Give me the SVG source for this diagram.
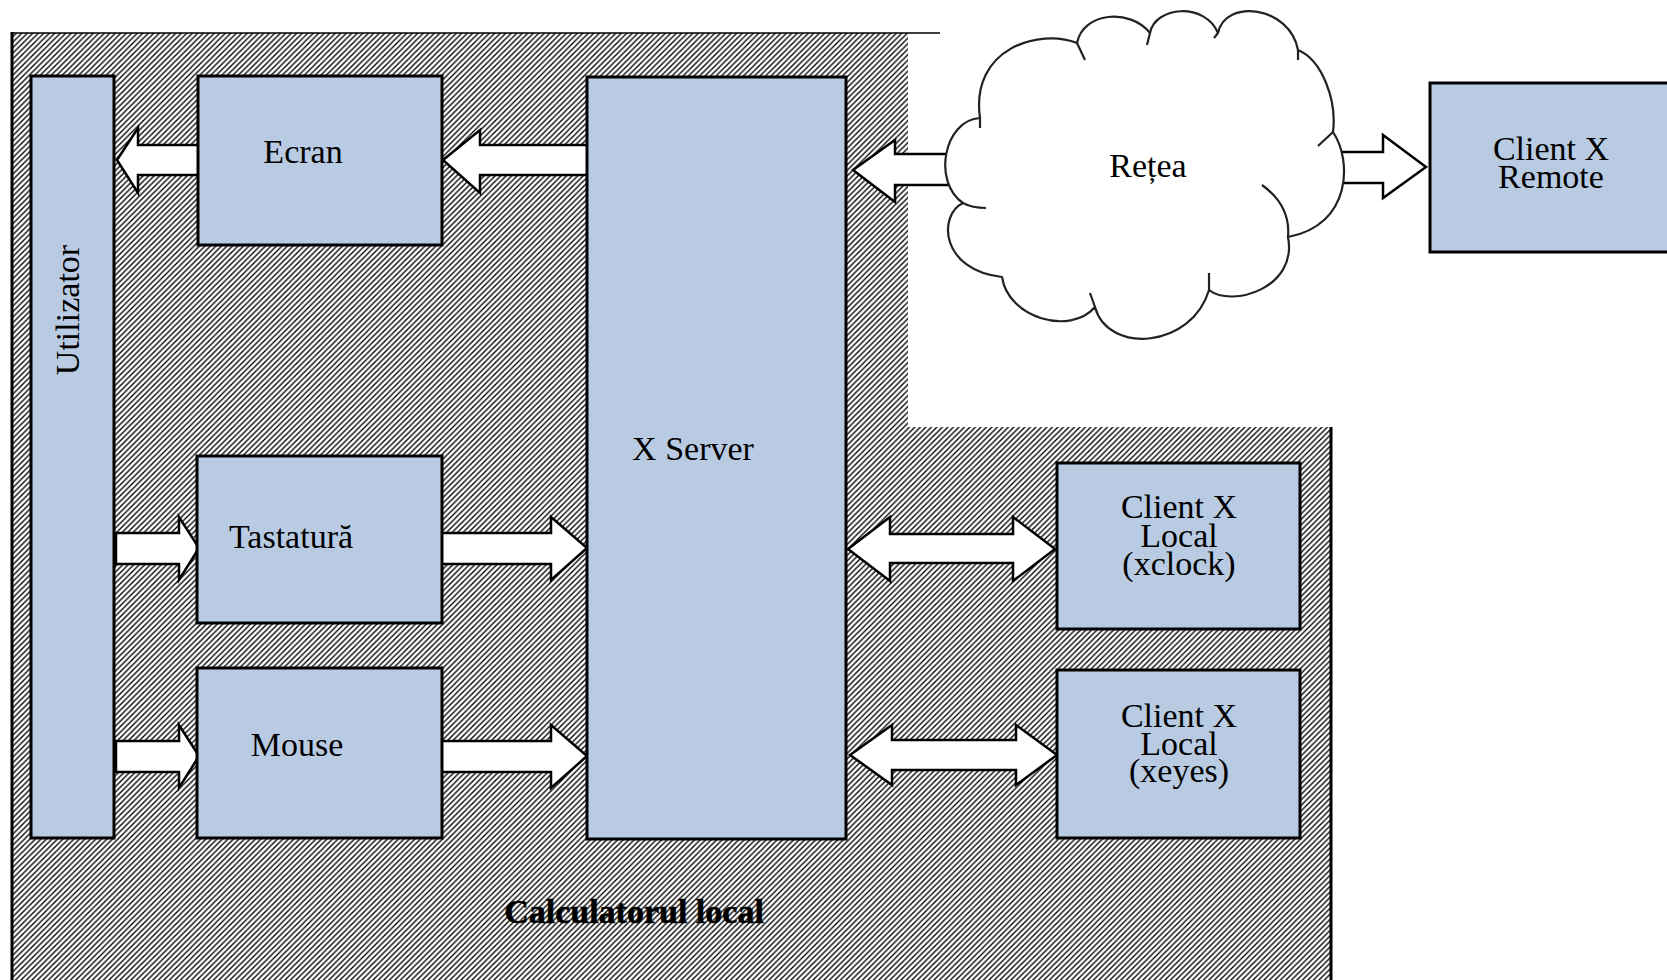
<svg xmlns="http://www.w3.org/2000/svg" width="1667" height="980" viewBox="0 0 1667 980">
<defs>
<pattern id="hatch" patternUnits="userSpaceOnUse" width="5.5" height="5.5">
<rect width="5.5" height="5.5" fill="#fff"/>
<path d="M-1,1 L1,-1 M0,5.5 L5.5,0 M4.5,6.5 L6.5,4.5" stroke="#000" stroke-width="1.35"/>
</pattern>
</defs>
<style>
.box{fill:#b8cbe3;stroke:#000;stroke-width:3}
.arr{fill:#fff;stroke:#000;stroke-width:2.5;stroke-linejoin:miter}
.t{font-family:"Liberation Serif","Times New Roman",serif;font-size:34px;fill:#000;text-anchor:middle}
.cloud{fill:#fff;stroke:#222;stroke-width:2.2;stroke-linejoin:round}
.tail{fill:none;stroke:#222;stroke-width:2.2}
</style>
<rect width="1667" height="980" fill="#fff"/>
<g id="calculatorul-local">
<path d="M12,33 H908 V427 H1331 V980 H12 Z" fill="url(#hatch)"/>
<line x1="12" y1="33" x2="940" y2="33" stroke="#000" stroke-width="1.5"/>
<line x1="12" y1="32" x2="12" y2="980" stroke="#000" stroke-width="3"/>
<line x1="1331" y1="427" x2="1331" y2="980" stroke="#000" stroke-width="3"/>
<text class="t" x="634" y="923" font-weight="bold" stroke="#000" stroke-width="0.6">Calculatorul local</text>
</g>
<g id="connectors">
<polygon class="arr" points="117,160 138,128 138,145 199,145 199,175 138,175 138,193"/>
<polygon class="arr" points="443,160 480,130 480,145 589,145 589,175 480,175 480,193"/>
<polygon class="arr" points="853,170 895,140 895,154 950,154 950,185 895,185 895,202"/>
<polygon class="arr" points="1335,152 1383,152 1383,135 1426,167 1383,198 1383,183 1335,183"/>
<polygon class="arr" points="116,533 179,533 179,517 199,548 179,580 179,564 116,564"/>
<polygon class="arr" points="440,533 551,533 551,517 587,548 551,580 551,564 440,564"/>
<polygon class="arr" points="116,741 179,741 179,725 199,756 179,788 179,772 116,772"/>
<polygon class="arr" points="440,741 551,741 551,725 587,756 551,788 551,772 440,772"/>
<polygon class="arr" points="848,549 890,517 890,534 1013,534 1013,517 1055,549 1013,581 1013,563 890,563 890,581"/>
<polygon class="arr" points="850,755 892,725 892,740 1016,740 1016,725 1057,755 1016,785 1016,770 892,770 892,785"/>
</g>
<g id="utilizator">
<rect class="box" x="31" y="76" width="83" height="762"/>
<text class="t" transform="translate(79,310) rotate(-90)">Utilizator</text>
</g>
<g id="ecran">
<rect class="box" x="198" y="76" width="244" height="169"/>
<text class="t" x="303" y="163">Ecran</text>
</g>
<g id="x-server">
<rect class="box" x="587" y="77" width="259" height="762"/>
<text class="t" x="693" y="460">X Server</text>
</g>
<g id="tastatura">
<rect class="box" x="197" y="456" width="245" height="167"/>
<text class="t" x="291" y="548">Tastatură</text>
</g>
<g id="mouse">
<rect class="box" x="197" y="668" width="245" height="170"/>
<text class="t" x="297" y="756">Mouse</text>
</g>
<g id="client-xclock">
<rect class="box" x="1057" y="463" width="243" height="166"/>
<text class="t" x="1179" y="518">Client X</text>
<text class="t" x="1179" y="547">Local</text>
<text class="t" x="1179" y="575">(xclock)</text>
</g>
<g id="client-xeyes">
<rect class="box" x="1057" y="670" width="243" height="168"/>
<text class="t" x="1179" y="727">Client X</text>
<text class="t" x="1179" y="755">Local</text>
<text class="t" x="1179" y="782">(xeyes)</text>
</g>
<g id="retea">
<path class="cloud" d="M980,118 C944,120 932,182 963,203 C938,215 940,270 1002,277 C1008,318 1070,336 1095,307 C1108,355 1192,348 1209,290 C1232,308 1298,288 1288,237 C1352,225 1352,160 1333,132 C1337,100 1322,60 1298,50 C1290,6 1225,-2 1218,33 C1205,2 1155,6 1150,33 C1130,8 1083,12 1077,43 C1040,28 970,48 980,118 Z"/>
<path class="tail" d="M963,203 Q972,208 986,208 M1095,307 L1090,293 M1209,290 L1209,273 M1288,237 C1290,215 1280,198 1262,185 M1333,132 L1318,146 M1298,50 L1298,60 M1218,33 L1214,38 M1150,33 L1147,45 M1077,43 L1085,60 M980,118 L980,128"/>
<text class="t" x="1148" y="177">Rețea</text>
</g>
<g id="client-remote">
<rect class="box" x="1430" y="83" width="245" height="169"/>
<text class="t" x="1551" y="160">Client X</text>
<text class="t" x="1551" y="188">Remote</text>
</g>
</svg>
